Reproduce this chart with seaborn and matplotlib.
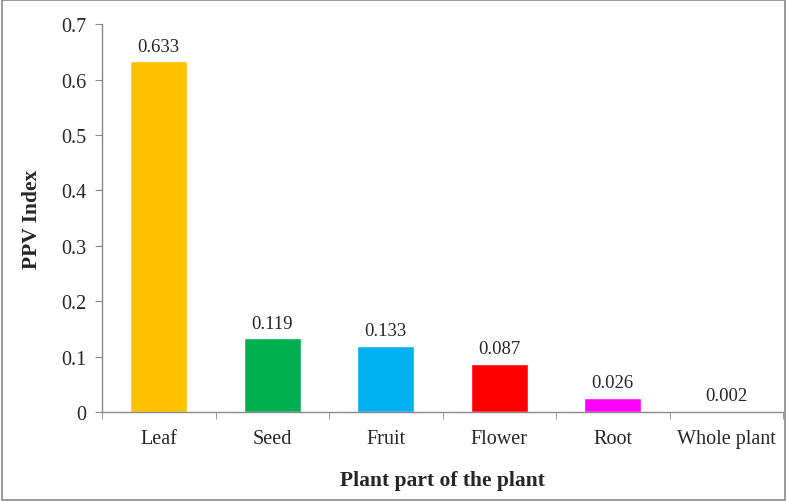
import matplotlib
matplotlib.use("Agg")
import matplotlib.pyplot as plt
import seaborn as sns
import pandas as pd
from matplotlib.patches import Rectangle

categories = ["Leaf", "Seed", "Fruit", "Flower", "Root", "Whole plant"]
values = [0.633, 0.133, 0.119, 0.087, 0.026, 0.002]
value_labels = ["0.633", "0.119", "0.133", "0.087", "0.026", "0.002"]
colors = ["#FFC000", "#00B050", "#00B0F0", "#FF0000", "#FF00FF", "#7030A0"]
yticks = [0, 0.1, 0.2, 0.3, 0.4, 0.5, 0.6, 0.7]
ytick_labels = ["0", "0.1", "0.2", "0.3", "0.4", "0.5", "0.6", "0.7"]

sns.set_style("white")
plt.rcParams['font.family'] = ['Liberation Serif', 'DejaVu Serif']

df = pd.DataFrame({"part": categories, "ppv": values})

fig = plt.figure(figsize=(7.87, 5.02), dpi=100)
ax = fig.add_axes([0.1296, 0.1773, 0.8654, 0.7727])
sns.barplot(data=df, x="part", y="ppv", hue="part", palette=colors,
            width=0.5, legend=False, ax=ax, saturation=1)

for i, (v, lab) in enumerate(zip(values, value_labels)):
    ax.text(i, v + 0.012, lab, ha="center", va="bottom", fontsize=13.5)

ax.set_ylim(0, 0.7)
ax.set_xlim(-0.5, len(categories) - 0.5)
ax.set_yticks(yticks)
ax.set_yticklabels(ytick_labels, fontsize=14.5)
ax.set_xticks(range(len(categories)))
ax.set_xticklabels(categories, fontsize=14.5)
ax.tick_params(axis="x", length=0, pad=12)
ax.tick_params(axis="y", length=5, direction="out", color="#888888", left=True, pad=6)
# category boundary ticks
ax.set_xticks([i - 0.5 for i in range(len(categories) + 1)], minor=True)
ax.tick_params(axis="x", which="minor", length=5, direction="out", color="#888888", bottom=True)

for s in ["top", "right"]:
    ax.spines[s].set_visible(False)
for s in ["left", "bottom"]:
    ax.spines[s].set_color("#888888")
    ax.spines[s].set_linewidth(1)

ax.set_xlabel("Plant part of the plant", fontsize=15.5, fontweight="bold", labelpad=16)
ax.set_ylabel("PPV Index", fontsize=15.5, fontweight="bold", labelpad=14)

fig.patches.append(Rectangle((0.002, 0.002), 0.996, 0.996, transform=fig.transFigure,
                             fill=False, edgecolor="#888888", linewidth=1.2))

fig.savefig("out.png", dpi=100)
